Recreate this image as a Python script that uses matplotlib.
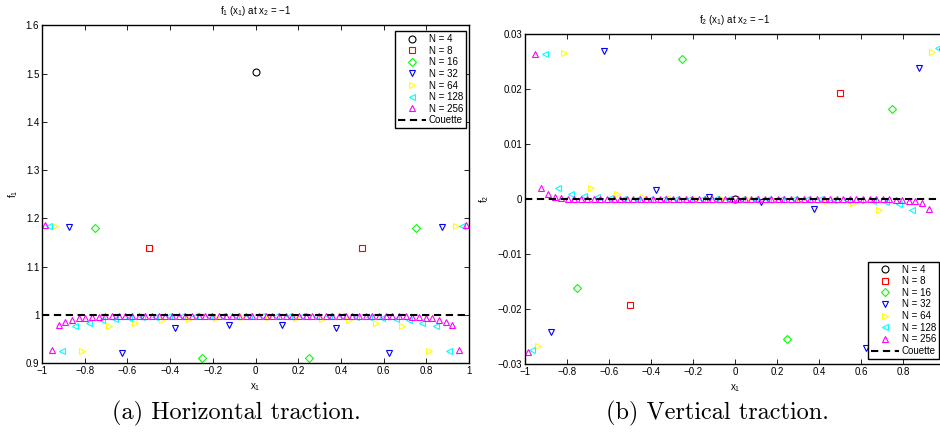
import numpy as np
import matplotlib
matplotlib.use("Agg")
import matplotlib.pyplot as plt

plt.rcParams['font.family'] = ['Liberation Sans', 'DejaVu Sans']
plt.rcParams['mathtext.fontset'] = 'custom'
plt.rcParams['mathtext.rm'] = 'Liberation Sans'
plt.rcParams['mathtext.it'] = 'Liberation Sans:italic'

# number of elements for each run
n_values = [4, 8, 16, 32, 64, 128, 256]

# horizontal traction f1 on x2 = -1, one value per element midpoint
f1_N4 = [1.503]
f1_N8 = [1.138, 1.138]
f1_N16 = [1.181, 0.912, 0.912, 1.181]
f1_N32 = [1.182, 0.922, 0.974, 0.980, 0.980, 0.974, 0.922, 1.182]
f1_N64 = [1.184, 0.925, 0.977, 0.984, 0.989, 0.991, 0.994, 0.995,
          0.995, 0.994, 0.991, 0.989, 0.984, 0.977, 0.925, 1.184]
f1_N128 = [1.184, 0.925, 0.978, 0.984, 0.989, 0.992, 0.994, 0.995,
           0.996, 0.997, 0.997, 0.997, 0.998, 0.998, 0.998, 0.998,
           0.998, 0.998, 0.998, 0.998, 0.997, 0.997, 0.997, 0.996,
           0.995, 0.994, 0.992, 0.989, 0.984, 0.978, 0.925, 1.184]
f1_N256 = [1.186, 0.927, 0.979, 0.986, 0.989, 0.993, 0.994, 0.995,
           0.996, 0.997, 0.997, 0.998, 0.998, 0.998, 0.999, 0.999,
           0.999, 0.999, 0.999, 0.999, 0.999, 0.999, 0.999, 0.999,
           0.999, 0.999, 0.999, 0.999, 0.999, 0.999, 0.999, 0.999,
           0.999, 0.999, 0.999, 0.999, 0.999, 0.999, 0.999, 0.999,
           0.999, 0.999, 0.999, 0.999, 0.999, 0.999, 0.999, 0.999,
           0.999, 0.999, 0.998, 0.998, 0.998, 0.997, 0.997, 0.996,
           0.995, 0.994, 0.993, 0.989, 0.986, 0.979, 0.927, 1.186]

# vertical traction f2 on x2 = -1
f2_N4 = [0.0]
f2_N8 = [-0.0192, 0.0193]
f2_N16 = [-0.0162, 0.0255, -0.0255, 0.0163]
f2_N32 = [-0.0241, 0.0269, 0.0017, 0.0004, -0.0005, -0.0018, -0.0270, 0.0239]
f2_N64 = [-0.0267, 0.0266, 0.0020, 0.0009, 0.0004, 0.0002, 0.0001, 0.0,
          0.0, -0.0001, -0.0002, -0.0004, -0.0008, -0.0019, -0.0266, 0.0267]
f2_N128 = [-0.0275, 0.0264, 0.0021, 0.0010, 0.0005, 0.0003, 0.0002, 0.0001,
           0.0001, 0.0, 0.0, 0.0, 0.0, 0.0, 0.0, 0.0,
           0.0, 0.0, 0.0, 0.0, 0.0, 0.0, 0.0, -0.0001,
           -0.0001, -0.0002, -0.0003, -0.0005, -0.0009, -0.0019, -0.0264, 0.0275]
f2_N256 = [-0.0278, 0.0264, 0.0021, 0.0010, 0.0004, 0.0002, 0.0001, 0.0001,
           0.0, 0.0, 0.0, 0.0, 0.0, 0.0, 0.0, 0.0,
           0.0, 0.0, 0.0, 0.0, 0.0, 0.0, 0.0, 0.0,
           0.0, 0.0, 0.0, 0.0, 0.0, 0.0, 0.0, 0.0,
           0.0, 0.0, 0.0, 0.0, 0.0, 0.0, 0.0, 0.0,
           0.0, 0.0, 0.0, 0.0, 0.0, 0.0, 0.0, 0.0,
           0.0, 0.0, 0.0, 0.0, 0.0, 0.0, 0.0, 0.0,
           -0.0001, -0.0001, -0.0003, -0.0004, -0.0008, -0.0018, -0.0264, 0.0278]

f1_runs = [f1_N4, f1_N8, f1_N16, f1_N32, f1_N64, f1_N128, f1_N256]
f2_runs = [f2_N4, f2_N8, f2_N16, f2_N32, f2_N64, f2_N128, f2_N256]

couette_f1 = 1.0
couette_f2 = 0.0

x_ticklabels = ['\u22121', '\u22120.8', '\u22120.6', '\u22120.4', '\u22120.2',
                '0', '0.2', '0.4', '0.6', '0.8', '1']

markers = ['o', 's', 'D', 'v', '>', '<', '^']
sizes = [5, 4.5, 4.2, 5, 5, 5, 5]
colors = ['k', (1, 0, 0), (0, 1, 0), (0, 0, 1), (1, 1, 0), (0, 1, 1), (1, 0, 1)]


def midpoints(n):
    # boundary elements on [-1, 1]: n/4 of them lie on the bottom wall
    edges = np.linspace(-1.0, 1.0, n // 4 + 1)
    return 0.5 * (edges[:-1] + edges[1:])


def draw_panel(ax, runs, couette, xlabels):
    for n, vals, m, s, c in zip(n_values, runs, markers, sizes, colors):
        ax.plot(midpoints(n), vals, ls='none', marker=m, ms=s, mfc='none',
                mec=c, mew=0.8, label='N = %d' % n)
    ax.plot([-1, 1], [couette, couette], color='k', lw=1.5,
            ls=(0, (3.5, 2.2)), label='Couette')
    ax.set_xlim(-1, 1)
    ax.set_xticks(np.arange(-1, 1.01, 0.2))
    ax.set_xticklabels(xlabels)
    ax.tick_params(direction='in', top=True, right=True, labelsize=7,
                   length=3.5, width=0.6, pad=2)
    for sp in ax.spines.values():
        sp.set_linewidth(1.0)


def add_legend(ax, loc, anchor):
    leg = ax.legend(loc=loc, bbox_to_anchor=anchor, bbox_transform=fig.transFigure,
                    fontsize=7, fancybox=False, edgecolor='k', framealpha=1,
                    borderpad=0.3, labelspacing=0.17, handlelength=2.9,
                    handletextpad=0.3, borderaxespad=0)
    leg.get_frame().set_linewidth(1.0)


fig = plt.figure(figsize=(9.4, 4.37), dpi=100)

# --- horizontal traction ---
ax1 = fig.add_axes([0.0447, 0.1686, 0.4543, 0.7735])
draw_panel(ax1, f1_runs, couette_f1, x_ticklabels)
ax1.set_ylim(0.9, 1.6)
ax1.set_yticks(np.arange(0.9, 1.61, 0.1))
ax1.set_yticklabels(['0.9', '1', '1.1', '1.2', '1.3', '1.4', '1.5', '1.6'])
ax1.set_title('f$_1$ (x$_1$) at x$_2$ = \u22121', fontsize=7, pad=8)
ax1.set_xlabel('x$_1$', fontsize=7, labelpad=4)
ax1.set_ylabel('f$_1$', fontsize=7, labelpad=4)
add_legend(ax1, 'upper right', (466 / 940, 1 - 31 / 437))

# --- vertical traction (right edge of this axes runs past the figure) ---
ax2 = fig.add_axes([0.5585, 0.167, 0.4468, 0.755])
draw_panel(ax2, f2_runs, couette_f2, x_ticklabels[:-1] + [''])
ax2.set_ylim(-0.03, 0.03)
ax2.set_yticks(np.arange(-0.03, 0.031, 0.01))
ax2.set_yticklabels(['\u22120.03', '\u22120.02', '\u22120.01', '0', '0.01', '0.02', '0.03'])
ax2.set_title('f$_2$ (x$_1$) at x$_2$ = \u22121', fontsize=7, pad=8)
ax2.set_xlabel('x$_1$', fontsize=7, labelpad=4)
ax2.set_ylabel('f$_2$', fontsize=7, labelpad=5)
add_legend(ax2, 'lower right', (939 / 940, 1 - 359 / 437))

# sub-figure captions
fig.text(236 / 940, 1 - 413 / 437, '(a) Horizontal traction.', family='cmr10',
         fontsize=17.5, ha='center', va='center')
fig.text(717 / 940, 1 - 413 / 437, '(b) Vertical traction.', family='cmr10',
         fontsize=17.5, ha='center', va='center')

fig.savefig('out.png', dpi=100)
